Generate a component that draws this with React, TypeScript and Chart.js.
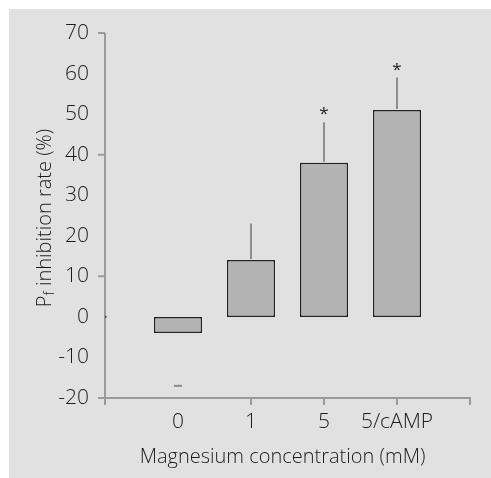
import React, { useEffect, useRef } from "react";
import { Chart, registerables } from "chart.js";

Chart.register(...registerables);

const categories = ["0", "1", "5", "5/cAMP"];
const values = [-4, 14, 38, 51];
const errors = [13, 9, 10, 8];
const significant = [false, false, true, true];
const yTickLabels = [-20, -10, 0, 10, 20, 30, 40, 50, 60, 70];
const yMajorTicks = [-20, 10, 40, 70];
const xTitle = "Magnesium concentration (mM)";
const yTitleMain = "P";
const yTitleSub = "f";
const yTitleRest = " inhibition rate (%)";

const FONT = '"Open Sans", "Liberation Sans", sans-serif';
const W = "350";
const TEXT = "#1c1c1c";
const AXIS = "#9a9a9a";

const overlay = {
  id: "overlay",
  afterDatasetsDraw(chart: any) {
    const { ctx, scales } = chart;
    const x = scales.x;
    const y = scales.y;
    const left = x.getPixelForValue(0);
    const right = x.getPixelForValue(categories.length + 1);
    const top = y.getPixelForValue(70);
    const bottom = y.getPixelForValue(-20);
    ctx.save();

    // error bars
    ctx.strokeStyle = "#8c8c8c";
    ctx.lineWidth = 2;
    values.forEach((v, i) => {
      const px = x.getPixelForValue(i + 1);
      if (v >= 0) {
        ctx.beginPath();
        ctx.moveTo(px, y.getPixelForValue(v) - 1);
        ctx.lineTo(px, y.getPixelForValue(v + errors[i]));
        ctx.stroke();
      } else {
        const py = y.getPixelForValue(v - errors[i]);
        ctx.beginPath();
        ctx.moveTo(px - 4, py);
        ctx.lineTo(px + 4, py);
        ctx.stroke();
      }
    });

    // asterisks
    ctx.fillStyle = TEXT;
    ctx.font = `17px ${FONT}`;
    ctx.textAlign = "center";
    ctx.textBaseline = "alphabetic";
    values.forEach((v, i) => {
      if (!significant[i]) return;
      const px = x.getPixelForValue(i + 1);
      const py = y.getPixelForValue(v + errors[i]);
      ctx.fillText("*", px, py - 3);
    });

    // axes
    ctx.strokeStyle = AXIS;
    ctx.lineWidth = 2;
    ctx.beginPath();
    ctx.moveTo(left, top);
    ctx.lineTo(left, bottom + 7);
    ctx.moveTo(left - 7, bottom);
    ctx.lineTo(right, bottom);
    ctx.lineTo(right, bottom + 7);
    ctx.stroke();
    ctx.beginPath();
    yMajorTicks.forEach((t) => {
      const py = y.getPixelForValue(t);
      ctx.moveTo(left - 7, py);
      ctx.lineTo(left, py);
    });
    for (let i = 2; i <= categories.length; i++) {
      const px = x.getPixelForValue(i);
      ctx.moveTo(px, bottom);
      ctx.lineTo(px, bottom + 7);
    }
    ctx.stroke();
    ctx.fillStyle = "#444";
    ctx.fillRect(left, y.getPixelForValue(0) - 1, 1.5, 2);

    // y tick labels
    ctx.fillStyle = TEXT;
    ctx.font = `${W} 21px ${FONT}`;
    ctx.textAlign = "right";
    ctx.textBaseline = "middle";
    yTickLabels.forEach((t) => {
      ctx.fillText(String(t), left - 16, y.getPixelForValue(t));
    });

    // x tick labels
    ctx.textAlign = "center";
    categories.forEach((c, i) => {
      ctx.fillText(c, x.getPixelForValue(i + 1), bottom + 24);
    });

    // x title
    ctx.font = `${W} 20px ${FONT}`;
    ctx.fillText(xTitle, (left + right) / 2 - 5, bottom + 59);

    // y title
    ctx.save();
    ctx.translate(36, 209);
    ctx.rotate(-Math.PI / 2);
    ctx.textAlign = "left";
    ctx.textBaseline = "middle";
    ctx.font = `${W} 20px ${FONT}`;
    const w1 = ctx.measureText(yTitleMain).width;
    ctx.font = `${W} 14px ${FONT}`;
    const w2 = ctx.measureText(yTitleSub).width;
    ctx.font = `${W} 20px ${FONT}`;
    const w3 = ctx.measureText(yTitleRest).width;
    const total = w1 + w2 + w3;
    let cx = -total / 2;
    ctx.fillText(yTitleMain, cx, 0);
    cx += w1;
    ctx.font = `${W} 14px ${FONT}`;
    ctx.fillText(yTitleSub, cx, 5);
    cx += w2;
    ctx.font = `${W} 20px ${FONT}`;
    ctx.fillText(yTitleRest, cx, 0);
    ctx.restore();

    ctx.restore();
  },
};

export default function App() {
  const ref = useRef<HTMLCanvasElement | null>(null);
  useEffect(() => {
    if (!ref.current) return;
    const chart = new Chart(ref.current, {
      type: "bar",
      data: {
        labels: ["", ...categories, ""],
        datasets: [
          {
            data: [null, ...values, null],
            backgroundColor: "#b3b3b3",
            borderColor: "#222222",
            borderWidth: 1.5,
            borderSkipped: false,
            barPercentage: 0.66,
            categoryPercentage: 1,
          },
        ],
      },
      options: {
        animation: false,
        responsive: false,
        devicePixelRatio: 1,
        layout: { padding: { left: 96, top: 24, right: 21, bottom: 80 } },
        scales: {
          x: { type: "category", display: false, offset: false },
          y: { type: "linear", display: false, min: -20, max: 70 },
        },
        plugins: { legend: { display: false }, tooltip: { enabled: false } },
      },
      plugins: [overlay],
    });
    return () => chart.destroy();
  }, []);
  return (
    <div
      style={{
        position: "fixed",
        left: 9,
        top: 9,
        width: 482,
        height: 469,
        background: "#e1e1e1",
      }}
    >
      <canvas ref={ref} width={482} height={469} style={{ display: "block" }} />
    </div>
  );
}
